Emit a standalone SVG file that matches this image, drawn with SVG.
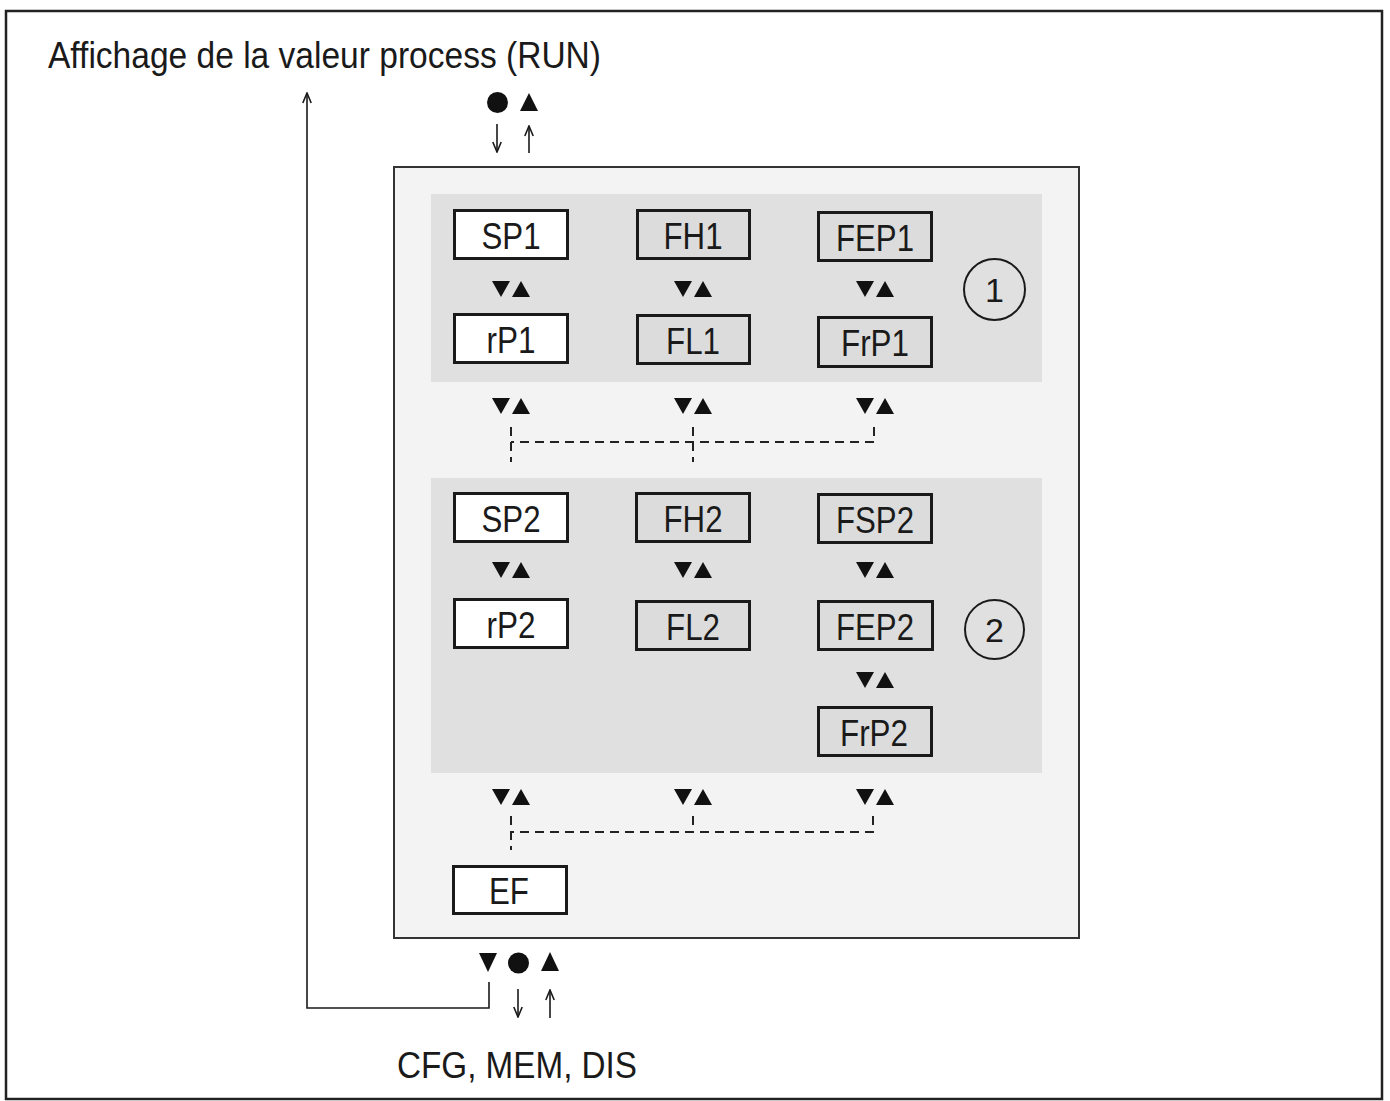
<svg xmlns="http://www.w3.org/2000/svg" xmlns:xlink="http://www.w3.org/1999/xlink" width="1390" height="1101" viewBox="0 0 1390 1101">
<style>
text{font-family:"Liberation Sans",Arial,sans-serif;fill:#1a1a1a}
.lbl{font-size:36px;text-anchor:middle}
.big{font-size:37px}
.num{font-size:34px;text-anchor:middle}
.bw{fill:#ffffff;stroke:#1a1a1a;stroke-width:3}
.bg{fill:#dcdcdc;stroke:#1a1a1a;stroke-width:3}
.dash{fill:none;stroke:#222;stroke-width:2;stroke-dasharray:9 6}
.thin{fill:none;stroke:#1a1a1a;stroke-width:1.6}
.tri{fill:#111}
</style>
<defs>
<marker id="ah" viewBox="0 0 12 10" refX="11" refY="5" markerWidth="12" markerHeight="10" markerUnits="userSpaceOnUse" orient="auto">
<path d="M1,0.8 L11,5 L1,9.2" fill="none" stroke="#1a1a1a" stroke-width="1.6"/>
</marker>
<g id="pair">
<polygon class="tri" points="0,0 18,0 9,16"/>
<polygon class="tri" points="20,16 38,16 29,0"/>
</g>
</defs>
<rect x="0" y="0" width="1390" height="1101" fill="#ffffff"/>
<rect id="frame" x="6" y="11" width="1376" height="1088" fill="#ffffff" stroke="#222" stroke-width="2.5"/>
<text id="title" class="big" x="48" y="68" textLength="553" lengthAdjust="spacingAndGlyphs">Affichage de la valeur process (RUN)</text>

<rect id="panel" x="394" y="167" width="685" height="771" fill="#f3f3f3" stroke="#333" stroke-width="2"/>
<rect id="band1" x="431" y="194" width="611" height="188" fill="#e0e0e0"/>
<rect id="band2" x="431" y="478" width="611" height="295" fill="#e0e0e0"/>

<g id="connectors">
<use xlink:href="#pair" x="492" y="281"/>
<use xlink:href="#pair" x="674" y="281"/>
<use xlink:href="#pair" x="856" y="281"/>
<use xlink:href="#pair" x="492" y="398"/>
<use xlink:href="#pair" x="674" y="398"/>
<use xlink:href="#pair" x="856" y="398"/>
<use xlink:href="#pair" x="492" y="562"/>
<use xlink:href="#pair" x="674" y="562"/>
<use xlink:href="#pair" x="856" y="562"/>
<use xlink:href="#pair" x="856" y="672"/>
<use xlink:href="#pair" x="492" y="789"/>
<use xlink:href="#pair" x="674" y="789"/>
<use xlink:href="#pair" x="856" y="789"/>
<path class="dash" d="M874,427 V442 H511"/>
<path class="dash" d="M511,427 V462"/>
<path class="dash" d="M693,427 V462"/>
<path class="dash" d="M873,816 V832 H511"/>
<path class="dash" d="M511,816 V850"/>
<path class="dash" d="M693,816 V832"/>
<path class="thin" d="M489,982 V1008 H307 V93" marker-end="url(#ah)"/>
<line class="thin" x1="497" y1="124" x2="497" y2="152" marker-end="url(#ah)"/>
<line class="thin" x1="529" y1="153" x2="529" y2="126" marker-end="url(#ah)"/>
<line class="thin" x1="518" y1="989" x2="518" y2="1017" marker-end="url(#ah)"/>
<line class="thin" x1="550" y1="1018" x2="550" y2="990" marker-end="url(#ah)"/>
<circle cx="497.5" cy="102.5" r="10.5" fill="#111"/>
<polygon class="tri" points="520,111 538,111 529,93"/>
<polygon class="tri" points="479,953 497,953 488,972"/>
<circle cx="518.5" cy="963" r="10.5" fill="#111"/>
<polygon class="tri" points="541,971 559,971 550,952"/>
</g>

<g id="SP1"><rect class="bw" x="454.5" y="210.5" width="113" height="48"/><text class="lbl" x="511" y="249" textLength="59" lengthAdjust="spacingAndGlyphs">SP1</text></g>
<g id="FH1"><rect class="bg" x="637.5" y="210.5" width="112" height="48"/><text class="lbl" x="693" y="249" textLength="59" lengthAdjust="spacingAndGlyphs">FH1</text></g>
<g id="FEP1"><rect class="bg" x="818.5" y="212.5" width="113" height="48"/><text class="lbl" x="875" y="251" textLength="78" lengthAdjust="spacingAndGlyphs">FEP1</text></g>
<g id="rP1"><rect class="bw" x="454.5" y="314.5" width="113" height="48"/><text class="lbl" x="511" y="353" textLength="49" lengthAdjust="spacingAndGlyphs">rP1</text></g>
<g id="FL1"><rect class="bg" x="637.5" y="315.5" width="112" height="48"/><text class="lbl" x="693" y="354" textLength="54" lengthAdjust="spacingAndGlyphs">FL1</text></g>
<g id="FrP1"><rect class="bg" x="818.5" y="317.5" width="113" height="49"/><text class="lbl" x="875" y="356" textLength="68" lengthAdjust="spacingAndGlyphs">FrP1</text></g>
<g id="c1"><circle cx="994.5" cy="289.5" r="30.5" fill="none" stroke="#1a1a1a" stroke-width="2"/><text class="num" x="994.5" y="302">1</text></g>

<g id="SP2"><rect class="bw" x="454.5" y="493.5" width="113" height="48"/><text class="lbl" x="511" y="532" textLength="59" lengthAdjust="spacingAndGlyphs">SP2</text></g>
<g id="FH2"><rect class="bg" x="636.5" y="493.5" width="113" height="48"/><text class="lbl" x="693" y="532" textLength="59" lengthAdjust="spacingAndGlyphs">FH2</text></g>
<g id="FSP2"><rect class="bg" x="818.5" y="494.5" width="113" height="48"/><text class="lbl" x="875" y="533" textLength="78" lengthAdjust="spacingAndGlyphs">FSP2</text></g>
<g id="rP2"><rect class="bw" x="454.5" y="599.5" width="113" height="48"/><text class="lbl" x="511" y="638" textLength="49" lengthAdjust="spacingAndGlyphs">rP2</text></g>
<g id="FL2"><rect class="bg" x="636.5" y="601.5" width="113" height="48"/><text class="lbl" x="693" y="640" textLength="54" lengthAdjust="spacingAndGlyphs">FL2</text></g>
<g id="FEP2"><rect class="bg" x="818.5" y="601.5" width="114" height="48"/><text class="lbl" x="875" y="640" textLength="78" lengthAdjust="spacingAndGlyphs">FEP2</text></g>
<g id="FrP2"><rect class="bg" x="818.5" y="707.5" width="113" height="48"/><text class="lbl" x="874" y="746" textLength="68" lengthAdjust="spacingAndGlyphs">FrP2</text></g>
<g id="c2"><circle cx="994.5" cy="629.5" r="29.5" fill="none" stroke="#1a1a1a" stroke-width="2"/><text class="num" x="994.5" y="642">2</text></g>

<g id="EF"><rect class="bw" x="453.5" y="866.5" width="113" height="47"/><text class="lbl" x="509" y="904" textLength="40" lengthAdjust="spacingAndGlyphs">EF</text></g>

<text id="bottom" class="big" x="397" y="1078" textLength="240" lengthAdjust="spacingAndGlyphs">CFG, MEM, DIS</text>
</svg>
